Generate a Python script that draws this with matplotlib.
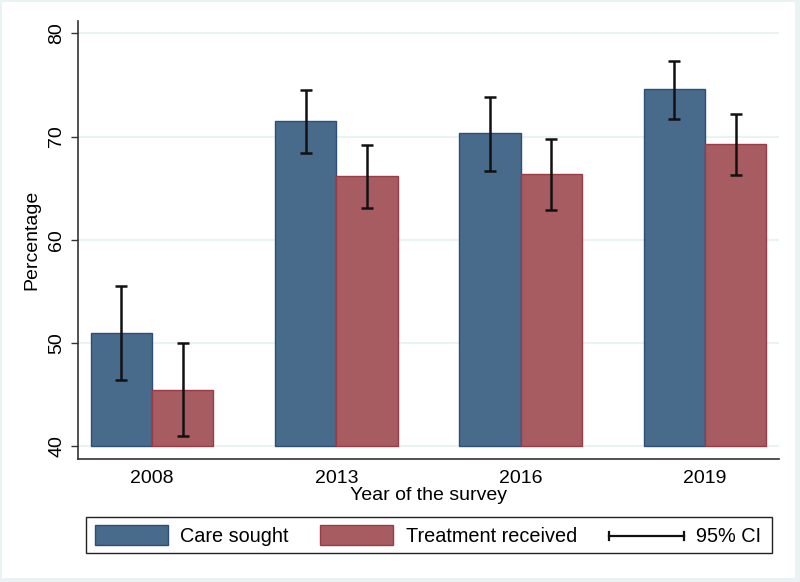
import matplotlib
matplotlib.use("Agg")
import matplotlib.pyplot as plt
from matplotlib.patches import Rectangle
import numpy as np

years = ["2008", "2013", "2016", "2019"]
care_sought = [50.95, 71.46, 70.3, 74.56]
care_lo = [46.4, 68.36, 66.65, 71.69]
care_hi = [55.5, 74.5, 73.79, 77.34]
treatment = [45.43, 66.13, 66.36, 69.26]
treat_lo = [40.97, 63.03, 62.87, 66.23]
treat_hi = [49.95, 69.14, 69.75, 72.2]
yticks = [40, 50, 60, 70, 80]
legend_labels = ["Care sought", "Treatment received", "95% CI"]

blue_fill = "#486a8b"
blue_edge = "#2c5075"
red_fill = "#a65c61"
red_edge = "#9a3b46"
grid_c = "#eaf2f3"

plt.rcParams["font.family"] = ["Liberation Sans", "DejaVu Sans"]

W, H = 800, 582
fig = plt.figure(figsize=(W / 100, H / 100), dpi=100)
fig.patch.set_facecolor(grid_c)
fig.add_artist(Rectangle((2 / W, 4 / H), (W - 7) / W, (H - 6) / H,
                         transform=fig.transFigure, facecolor="white",
                         edgecolor="none", zorder=0))

left, right, top, bottom = 78, 779, 21, 459
ax = fig.add_axes([left / W, 1 - bottom / H, (right - left) / W, (bottom - top) / H])
ax.set_facecolor("none")

x = np.arange(len(years))
bw = 1 / 3
ax.bar(x - bw / 2, [v - 40 for v in care_sought], bottom=40, width=bw,
       color=blue_fill, edgecolor=blue_edge, linewidth=1, zorder=2)
ax.bar(x + bw / 2, [v - 40 for v in treatment], bottom=40, width=bw,
       color=red_fill, edgecolor=red_edge, linewidth=1, zorder=2)

for xs, lo, hi in [(x - bw / 2, care_lo, care_hi), (x + bw / 2, treat_lo, treat_hi)]:
    mid = [(a + b) / 2 for a, b in zip(lo, hi)]
    err = [[m - a for m, a in zip(mid, lo)], [b - m for m, b in zip(mid, hi)]]
    ax.errorbar(xs, mid, yerr=err, fmt="none", ecolor="#111111",
                elinewidth=1.8, capsize=4.5, capthick=1.8, zorder=3)

ax.set_xlim(-0.4015, 3.4015)
ax.set_ylim(38.74, 81.2)
ax.set_yticks(yticks)
ax.set_yticklabels([str(t) for t in yticks], rotation=90, va="center", fontsize=14)
ax.set_xticks(x)
ax.set_xticklabels(years, fontsize=14)
ax.tick_params(axis="x", length=0, pad=8)
ax.tick_params(axis="y", length=5, width=1, color="#333333", pad=4)
for yv in yticks:
    ax.axhline(yv, color=grid_c, linewidth=1.5, zorder=1)

for s in ["top", "right"]:
    ax.spines[s].set_visible(False)
for s in ["left", "bottom"]:
    ax.spines[s].set_color("#333333")
    ax.spines[s].set_linewidth(1.2)

ax.set_ylabel("Percentage", fontsize=14, labelpad=6)
ax.set_xlabel("Year of the survey", fontsize=14, labelpad=0)

# legend drawn in a pixel-coordinate overlay axes
lax = fig.add_axes([0, 0, 1, 1], facecolor="none")
lax.set_xlim(0, W)
lax.set_ylim(H, 0)
lax.axis("off")
lax.add_patch(Rectangle((85.5, 517), 686, 36, facecolor="white",
                        edgecolor="#222222", linewidth=1.0))
lax.add_patch(Rectangle((94.5, 525), 73, 20, facecolor=blue_fill,
                        edgecolor=blue_edge, linewidth=1))
lax.text(180, 536, legend_labels[0], fontsize=14.3, va="center", ha="left")
lax.add_patch(Rectangle((319.5, 525), 73, 20, facecolor=red_fill,
                        edgecolor=red_edge, linewidth=1))
lax.text(406, 536, legend_labels[1], fontsize=14.3, va="center", ha="left")
lax.plot([609, 684], [535.5, 535.5], color="#111111", linewidth=1.6)
lax.plot([609, 609], [531.5, 539.5], color="#111111", linewidth=1.6)
lax.plot([684, 684], [531.5, 539.5], color="#111111", linewidth=1.6)
lax.text(696, 536, legend_labels[2], fontsize=14.3, va="center", ha="left")

fig.savefig("out.png", dpi=100, facecolor=fig.get_facecolor())
